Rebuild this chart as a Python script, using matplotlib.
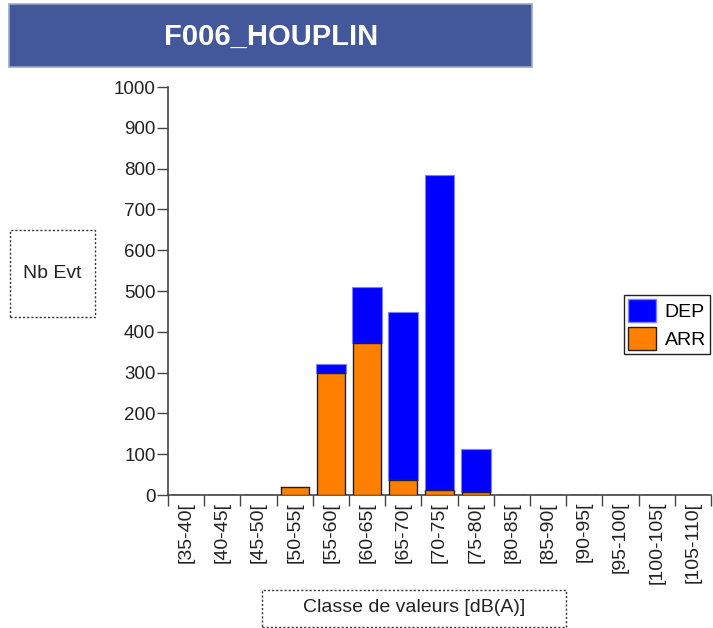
import matplotlib
matplotlib.use("Agg")
import matplotlib.pyplot as plt
from matplotlib.patches import Rectangle, Patch
import numpy as np

plt.rcParams['font.family'] = ['Liberation Sans', 'DejaVu Sans']

# classes de valeurs
classes = ["[35-40[", "[40-45[", "[45-50[", "[50-55[", "[55-60[", "[60-65[", "[65-70[",
           "[70-75[", "[75-80[", "[80-85[", "[85-90[", "[90-95[", "[95-100[",
           "[100-105[", "[105-110["]

# nombre d'evenements (empiles)
arr = [0, 0, 0, 20, 300, 372, 37, 13, 7, 0, 0, 0, 0, 0, 0]
dep = [0, 0, 0, 0, 20, 138, 411, 772, 105, 0, 0, 0, 0, 0, 0]

W, H = 713, 628
fig = plt.figure(figsize=(W / 100, H / 100), dpi=100)

def fx(px):
    return px / W

def fy(py):
    return 1 - py / H

ax = fig.add_axes([fx(168), fy(495), fx(711) - fx(168), fy(87) - fy(495)])

x = np.arange(len(classes))
ax.bar(x, arr, width=0.78, color="#FF8000", edgecolor="#202020", linewidth=1, zorder=3)
ax.bar(x, dep, bottom=arr, width=0.82, color="#0000FF", edgecolor="#8080FF", linewidth=0.8, zorder=2)

ax.set_xlim(-0.5, len(classes) - 0.5)
ax.set_ylim(0, 1000)
ax.set_yticks(range(0, 1001, 100))
ax.set_xticks(x)
ax.set_xticklabels(classes, rotation=90, fontsize=14, color="#222222")
ax.set_xticks(np.arange(-0.5, len(classes), 1), minor=True)
ax.tick_params(axis='x', which='major', length=0, pad=5)
ax.tick_params(axis='x', which='minor', length=8, width=1, color="#444444", direction='out')
ax.tick_params(axis='y', length=8, width=1, color="#444444", labelsize=13.5, labelcolor="#222222", pad=1)

for s in ['top', 'right']:
    ax.spines[s].set_visible(False)
for s in ['left', 'bottom']:
    ax.spines[s].set_color("#444444")
    ax.spines[s].set_linewidth(1.2)

# bandeau du titre
fig.patches.append(Rectangle((fx(9), fy(67)), fx(532) - fx(9), fy(4) - fy(67),
                             transform=fig.transFigure, facecolor="#42589A",
                             edgecolor="#9AA8CC", linewidth=1.2))
fig.text(fx(271), fy(37), "F006_HOUPLIN", color="white", fontsize=21,
         fontweight='bold', ha='center', va='center')

# boites pointillees des axes
fig.patches.append(Rectangle((fx(10), fy(317)), fx(95) - fx(10), fy(230) - fy(317),
                             transform=fig.transFigure, facecolor="none",
                             edgecolor="#333333", linestyle=(0, (1.5, 1.5)), linewidth=1))
fig.text(fx(52), fy(273), "Nb Evt", fontsize=14, ha='center', va='center', color="#222222")

fig.patches.append(Rectangle((fx(262), fy(627)), fx(566) - fx(262), fy(590) - fy(627),
                             transform=fig.transFigure, facecolor="none",
                             edgecolor="#333333", linestyle=(0, (1.5, 1.5)), linewidth=1))
fig.text(fx(414), fy(608), "Classe de valeurs [dB(A)]", fontsize=14,
         ha='center', va='center', color="#222222")

# legende
handles = [Patch(facecolor="#0000FF", edgecolor="#8080FF", label="DEP"),
           Patch(facecolor="#FF8000", edgecolor="#202020", label="ARR")]
leg = fig.legend(handles=handles, loc='upper left', bbox_to_anchor=(fx(624), fy(295)),
                 fontsize=14, fancybox=False, framealpha=1, edgecolor="#222222",
                 handlelength=1.45, handleheight=1.45, handletextpad=0.45,
                 borderpad=0.2, labelspacing=0.25, borderaxespad=0)
leg.get_frame().set_linewidth(1)

fig.savefig("out.png", dpi=100)
